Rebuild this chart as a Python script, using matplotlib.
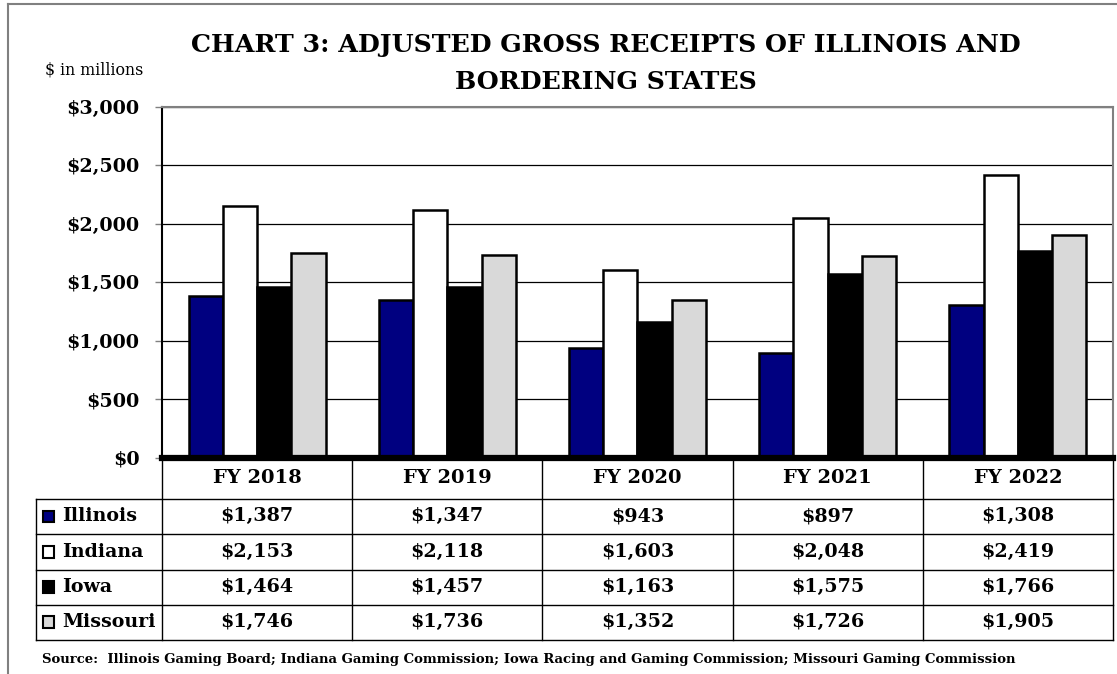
import numpy as np
import matplotlib
matplotlib.use("Agg")
import matplotlib.pyplot as plt
from matplotlib.patches import Rectangle
from matplotlib.lines import Line2D

# Data ($ in millions)
years = ["FY 2018", "FY 2019", "FY 2020", "FY 2021", "FY 2022"]
states = ["Illinois", "Indiana", "Iowa", "Missouri"]
illinois = [1387, 1347, 943, 897, 1308]
indiana = [2153, 2118, 1603, 2048, 2419]
iowa = [1464, 1457, 1163, 1575, 1766]
missouri = [1746, 1736, 1352, 1726, 1905]
colors = ["#000080", "#FFFFFF", "#000000", "#D9D9D9"]

series = [illinois, indiana, iowa, missouri]

plt.rcParams["font.family"] = "DejaVu Serif"

fig = plt.figure(figsize=(11.17, 6.74), dpi=100)
ax = fig.add_axes([0.1450, 0.3205, 0.8514, 0.5213])

x = np.arange(len(years))
w = 0.18
for i, vals in enumerate(series):
    ax.bar(x + (i - 1.5) * w, vals, width=w, color=colors[i],
           edgecolor="black", linewidth=1.8, zorder=3)

ax.set_xlim(-0.5, len(years) - 0.5)
ax.set_ylim(0, 3000)
ax.set_yticks(np.arange(0, 3001, 500))
ax.set_yticklabels(["${:,.0f}".format(v) for v in np.arange(0, 3001, 500)],
                   fontsize=13.8, fontweight="bold")
ax.set_xticks([])
ax.yaxis.grid(True, color="black", linewidth=0.9, zorder=0)
ax.tick_params(axis="y", length=5, width=1, color="#808080", pad=11)
ax.spines["left"].set_linewidth(1.5)
ax.spines["top"].set_color("#808080")
ax.spines["right"].set_color("#808080")
ax.spines["top"].set_linewidth(1.5)
ax.spines["right"].set_linewidth(1.5)
ax.spines["bottom"].set_visible(False)
ax.axhline(0, color="black", linewidth=4.5, zorder=4, clip_on=False)

# data table below the chart
tr = ax.get_xaxis_transform()
row_lines = [-0.1167, -0.2163, -0.3187, -0.4183, -0.518]
row_mid = [-0.1665, -0.2675, -0.3685, -0.468]
left_x = -0.5 - 126 / 190.2
for b in np.arange(-0.5, len(years)):
    ax.add_line(Line2D([b, b], [0, row_lines[-1]], transform=tr, color="black",
                       linewidth=1, clip_on=False))
ax.add_line(Line2D([left_x, left_x], [row_lines[0], row_lines[-1]], transform=tr,
                   color="black", linewidth=1, clip_on=False))
for yl in row_lines:
    ax.add_line(Line2D([left_x, len(years) - 0.5], [yl, yl], transform=tr,
                       color="black", linewidth=1, clip_on=False))
for j, yr in enumerate(years):
    ax.text(j, -0.057, yr, transform=tr, ha="center", va="center",
            fontsize=14, fontweight="bold")
for i, (name, vals) in enumerate(zip(states, series)):
    ym = row_mid[i]
    ax.add_patch(Rectangle((left_x + 0.035, ym - 0.016), 0.058, 0.033,
                           transform=tr, facecolor=colors[i], edgecolor="black",
                           linewidth=1.5, clip_on=False))
    ax.text(left_x + 0.14, ym, name, transform=tr, ha="left", va="center",
            fontsize=13.7, fontweight="bold")
    for j, v in enumerate(vals):
        ax.text(j, ym, "${:,}".format(v), transform=tr, ha="center", va="center",
                fontsize=13.8, fontweight="bold")

# titles and notes
fig.text(606 / 1117, 1 - 45 / 674, "CHART 3: ADJUSTED GROSS RECEIPTS OF ILLINOIS AND",
         ha="center", va="center", fontsize=18.2, fontweight="bold")
fig.text(606 / 1117, 1 - 82 / 674, "BORDERING STATES",
         ha="center", va="center", fontsize=18.2, fontweight="bold")
fig.text(45 / 1117, 1 - 70 / 674, "$ in millions", ha="left", va="center", fontsize=11.4)
fig.text(42 / 1117, 1 - 660 / 674,
         "Source:  Illinois Gaming Board; Indiana Gaming Commission; "
         "Iowa Racing and Gaming Commission; Missouri Gaming Commission",
         ha="left", va="center", fontsize=9.55, fontweight="bold")

# outer frame
fig.add_artist(Line2D([8 / 1117, 8 / 1117], [0, 1 - 4 / 674], transform=fig.transFigure,
                      color="#808080", linewidth=1.5))
fig.add_artist(Line2D([8 / 1117, 1], [1 - 4 / 674, 1 - 4 / 674], transform=fig.transFigure,
                      color="#808080", linewidth=1.5))

fig.savefig("out.png", dpi=100)
